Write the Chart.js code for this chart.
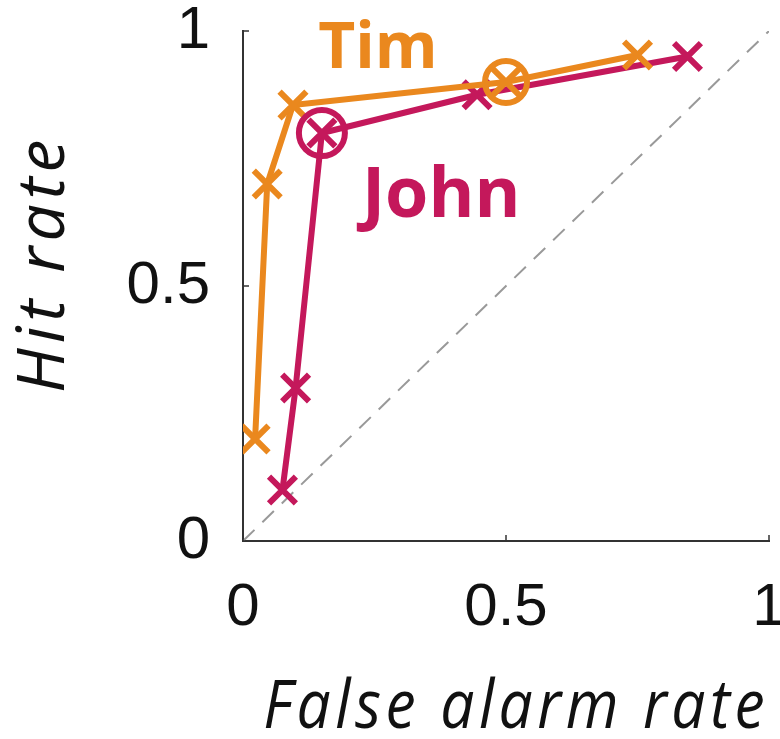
<!DOCTYPE html>
<html>
<head>
<meta charset="utf-8">
<script src="https://cdn.jsdelivr.net/npm/chart.js@4.4.1/dist/chart.umd.min.js"></script>
<style>
  html, body { margin: 0; padding: 0; background: #fff; }
  #wrap { width: 780px; height: 739px; }
</style>
</head>
<body>
<div id="wrap"><canvas id="roc"></canvas></div>
<script>
// false alarm rate / hit rate
const timFA = [0.023, 0.046, 0.095, 0.50, 0.75];
const timHit = [0.20, 0.70, 0.855, 0.90, 0.953];
const johnFA = [0.075, 0.10, 0.15, 0.445, 0.845];
const johnHit = [0.10, 0.30, 0.80, 0.875, 0.95];
const timPick = 3;   // circled point
const johnPick = 2;
const chanceLine = [0, 1];
const tickVals = [0, 0.5, 1];
const tickText = ["0", "0.5", "1"];

const ORANGE = "#EA881E";
const MAGENTA = "#C4185B";

const pts = (xs, ys) => xs.map((x, i) => ({ x: x, y: ys[i] }));

const labels = [
    { text: "Tim", x: 0.143, y: 0.927, color: ORANGE, size: 64 },
    { text: "John", x: 0.226, y: 0.635, color: MAGENTA, size: 70 }
];

// axis titles in the picture are a bit more spread out than Open Sans
const spacing = {
    id: "spacing",
    beforeDraw(chart) { chart.ctx.letterSpacing = "5px"; },
    beforeDatasetsDraw(chart) { chart.ctx.letterSpacing = "0px"; }
};

const extras = {
    id: "extras",
    afterDatasetsDraw(chart) {
        const { ctx, scales: { x, y } } = chart;
        ctx.save();
        // little inward ticks, matlab style
        ctx.strokeStyle = "#333";
        ctx.lineWidth = 1.5;
        tickVals.forEach(v => {
            const px = x.getPixelForValue(v);
            ctx.beginPath();
            ctx.moveTo(px, y.bottom);
            ctx.lineTo(px, y.bottom - 6);
            ctx.stroke();
            const py = y.getPixelForValue(v);
            ctx.beginPath();
            ctx.moveTo(x.left, py);
            ctx.lineTo(x.left + 6, py);
            ctx.stroke();
        });
        labels.forEach(l => {
            ctx.font = `bold ${l.size}px "Open Sans"`;
            ctx.fillStyle = l.color;
            ctx.textAlign = "left";
            ctx.textBaseline = "alphabetic";
            ctx.fillText(l.text, x.getPixelForValue(l.x), y.getPixelForValue(l.y));
        });
        ctx.restore();
    }
};

new Chart(document.getElementById("roc"), {
    type: "scatter",
    data: {
        datasets: [
            {
                label: "chance",
                data: pts(chanceLine, chanceLine),
                showLine: true,
                borderColor: "#999",
                borderWidth: 2,
                borderDash: [16, 11],
                pointRadius: 0,
                order: 10
            },
            {
                label: "John",
                data: pts(johnFA, johnHit),
                showLine: true,
                borderColor: MAGENTA,
                borderWidth: 6,
                pointStyle: "crossRot",
                pointRadius: 19,
                pointBorderWidth: 6,
                pointBorderColor: MAGENTA,
                order: 9
            },
            {
                label: "Tim",
                data: pts(timFA, timHit),
                showLine: true,
                borderColor: ORANGE,
                borderWidth: 6,
                pointStyle: "crossRot",
                pointRadius: 19,
                pointBorderWidth: 6,
                pointBorderColor: ORANGE,
                order: 8
            },
            {
                label: "John pick",
                data: [{ x: johnFA[johnPick], y: johnHit[johnPick] }],
                pointStyle: "circle",
                pointRadius: 23,
                pointBorderWidth: 6,
                pointBorderColor: MAGENTA,
                pointBackgroundColor: "rgba(0,0,0,0)",
                order: 7
            },
            {
                label: "Tim pick",
                data: [{ x: timFA[timPick], y: timHit[timPick] }],
                pointStyle: "circle",
                pointRadius: 21,
                pointBorderWidth: 6,
                pointBorderColor: ORANGE,
                pointBackgroundColor: "rgba(0,0,0,0)",
                order: 6
            }
        ]
    },
    options: {
        responsive: true,
        maintainAspectRatio: false,
        animation: false,
        layout: { autoPadding: false, padding: { top: 31, right: 11, left: 0, bottom: 0 } },
        plugins: { legend: { display: false }, tooltip: { enabled: false } },
        scales: {
            x: {
                type: "linear",
                min: 0,
                max: 1,
                afterFit: s => { s.height = 198; s.paddingLeft = 0; s.paddingRight = 0; },
                afterBuildTicks: s => { s.ticks = tickVals.map(v => ({ value: v })); },
                border: { display: true, color: "#333", width: 2 },
                grid: { display: false },
                ticks: {
                    z: 1,
                    color: "#111",
                    font: { family: "Liberation Sans", size: 60 },
                    padding: 23,
                    maxRotation: 0,
                    callback: (v) => tickText[tickVals.indexOf(v)]
                },
                title: {
                    display: true,
                    text: " False alarm rate",
                    color: "#111",
                    font: { family: "Open Sans", size: 68, style: "italic", lineHeight: 0.9 },
                    padding: { top: 10, bottom: 0 }
                }
            },
            y: {
                type: "linear",
                min: 0,
                max: 1,
                afterFit: s => { s.width = 243; s.paddingTop = 0; s.paddingBottom = 0; },
                afterBuildTicks: s => { s.ticks = tickVals.map(v => ({ value: v })); },
                border: { display: true, color: "#333", width: 2 },
                grid: { display: false },
                ticks: {
                    z: 1,
                    color: "#111",
                    font: { family: "Liberation Sans", size: 60 },
                    padding: 25,
                    callback: (v) => tickText[tickVals.indexOf(v)]
                },
                title: {
                    display: true,
                    text: "  Hit rate",
                    color: "#111",
                    font: { family: "Open Sans", size: 66, style: "italic", lineHeight: 0.9 },
                    padding: { top: 16, bottom: 0 }
                }
            }
        }
    },
    plugins: [spacing, extras]
});
</script>
</body>
</html>
